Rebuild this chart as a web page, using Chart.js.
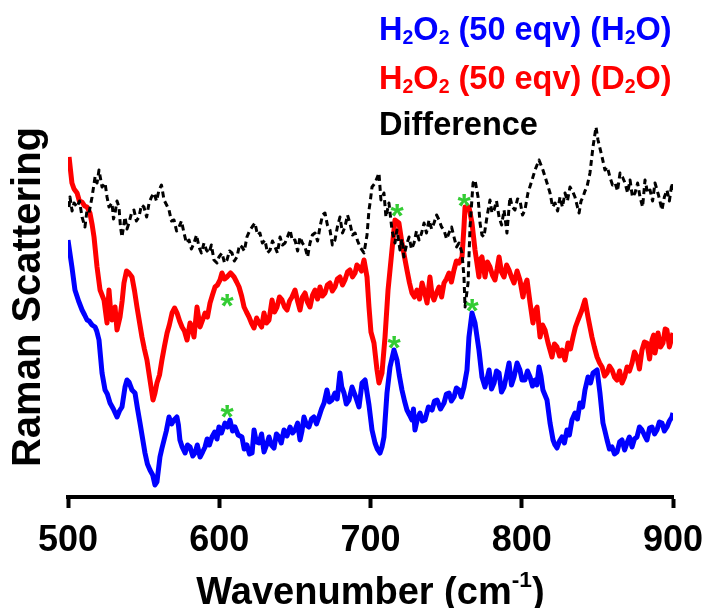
<!DOCTYPE html>
<html>
<head>
<meta charset="utf-8">
<script src="https://cdn.jsdelivr.net/npm/chart.js@4.4.1/dist/chart.umd.min.js"></script>
<style>
  html, body { margin: 0; padding: 0; background: #fff; overflow: hidden; }
  #wrap { position: relative; width: 705px; height: 608px; overflow: hidden; font-family: "Liberation Sans", Arial, sans-serif; font-weight: bold; }
  #chart { position: absolute; left: 0; top: 0; }
  .leg { position: absolute; left: 379px; font-size: 32.5px; line-height: 32px; white-space: nowrap; }
  .leg sub { font-size: 0.6em; vertical-align: baseline; position: relative; top: 0.22em; }
  #xtitle { position: absolute; left: 68px; width: 605px; top: 573px; text-align: center; font-size: 38px; line-height: 36px; white-space: nowrap; }
  #xtitle sup { font-size: 0.6em; vertical-align: baseline; position: relative; top: -0.75em; }
</style>
</head>
<body>
<div id="wrap">
  <canvas id="chart" width="705" height="608"></canvas>
  <div class="leg" style="top:13px;color:#0000ff">H<sub>2</sub>O<sub>2</sub> (50 eqv) (H<sub>2</sub>O)</div>
  <div class="leg" style="top:62px;color:#ff0000">H<sub>2</sub>O<sub>2</sub> (50 eqv) (D<sub>2</sub>O)</div>
  <div class="leg" style="top:108px;color:#000">Difference</div>
  <div id="xtitle">Wavenumber (cm<sup>-1</sup>)</div>
</div>
<script>
// x axis ticks (cm-1)
const xTicks = [500, 600, 700, 800, 900];

// H2O2 (50 eqv) in H2O, blue trace (arbitrary offset units)
const wnH2O = [500, 502.6, 504.6, 507, 509.3, 511, 512.6, 514, 515.9, 517.9, 519, 520.5, 522.5, 524.5, 526, 527.8,
  530, 532.4, 534, 535.7, 537.7, 539, 540.3, 542.3, 544.3, 546, 547.6, 550.9, 552.5, 554.2, 556, 557.5, 558.8,
  560.8, 562, 563.5, 565, 566.8, 568.5, 570.1, 572, 573, 574, 575.5, 577.4, 579, 580.7, 582.5, 584, 585.5, 587.3,
  589, 590.6, 592, 593.5, 595.2, 597, 598.5, 599.8, 601.5, 603.8, 605.5, 607.1, 608.8, 610.4, 612.5, 615, 616.5,
  618.3, 620, 621.7, 623, 624.5, 626.3, 628, 629.6, 631.3, 632.9, 634.5, 636.2, 637.8, 639.5, 641, 642.8, 644.8,
  646.8, 648.5, 650.1, 651.8, 653.4, 654.7, 656, 657.7, 659.3, 661, 662.6, 664.3, 665.9, 667.6, 669.3, 671.2,
  672.8, 674.5, 676.5, 678, 679.8, 681, 682.5, 684, 685.8, 687.8, 690, 692.4, 694.4, 696.4, 699, 701, 703, 704.5,
  706.3, 707.6, 708.9, 710.9, 712.9, 715.5, 717.5, 719, 720.8, 722.5, 724.1, 725.8, 727.4, 728.4, 729.4, 731,
  732.7, 734.3, 736, 738.3, 740.7, 742.3, 744, 746.3, 748.6, 750.2, 751.9, 753.5, 755.2, 756.8, 758.5, 760,
  761.8, 763.8, 765.1, 767.1, 769.1, 771.7, 773.7, 775.7, 777, 778.4, 780, 781.7, 783.3, 785, 786.6, 788.3, 790,
  791.6, 793.2, 794.9, 796.9, 798.8, 800.2, 802.1, 803.8, 805.5, 807.1, 808.8, 810, 811.4, 812.7, 814, 816.7,
  818.7, 820.7, 822, 823.3, 825, 826.6, 828.2, 829.9, 831.5, 833.2, 835.2, 836.8, 838.5, 840.2, 841.8, 843.8,
  845.5, 847.1, 849.8, 851.7, 853.7, 855, 856.4, 858, 859.7, 861.3, 863, 864.7, 866.3, 868, 869.6, 871.2, 872.9,
  874.5, 876.2, 877.8, 879.5, 881.1, 882.8, 884.5, 886.1, 887.8, 889.4, 891, 892.7, 894.3, 896, 897.6, 899.3, 900];
const ramanH2O = [257, 230, 207, 196, 187, 182, 177, 176, 172, 170, 166, 157, 124, 107, 103, 94,
  88, 80, 86, 90, 110, 117, 115, 107, 104, 88, 74, 44, 33, 27, 22, 12, 15,
  40, 48, 57, 66, 80, 73, 77, 80, 72, 57, 50, 44, 52, 50, 41, 44, 52, 40,
  45, 50, 58, 52, 60, 65, 58, 70, 64, 74, 70, 77, 66, 70, 62, 60, 48,
  52, 43, 44, 67, 55, 54, 63, 45, 52, 60, 52, 49, 63, 60, 54, 67, 61,
  70, 64, 67, 74, 57, 66, 80, 72, 70, 78, 80, 73, 80, 88, 94, 107,
  95, 97, 104, 98, 124, 110, 104, 93, 97, 110, 101, 90, 114, 117, 92, 67, 54, 48,
  44, 50, 60, 104, 130, 147, 137, 122, 107, 96, 87, 82, 77, 88, 67, 78,
  84, 76, 77, 90, 87, 96, 97, 88, 94, 103, 104, 96, 100, 109, 107, 100,
  110, 127, 160, 184, 174, 147, 120, 110, 118, 127, 108, 114, 126, 124, 105, 110, 122,
  134, 112, 120, 134, 127, 117, 117, 126, 120, 111, 117, 112, 130, 121, 107, 97,
  74, 57, 52, 49, 56, 60, 54, 67, 62, 77, 84, 78, 94, 90, 107, 120,
  114, 124, 127, 104, 74, 66, 57, 48, 50, 43, 45, 55, 57, 47, 54, 60, 50,
  58, 60, 70, 67, 62, 57, 69, 70, 63, 67, 75, 74, 66, 70, 76, 80, 84];

// H2O2 (50 eqv) in D2O, red trace
const wnD2O = [500.7, 502.6, 504, 506, 507.5, 509.3, 511, 512.6, 514.5, 516, 517.2, 519.2, 521.2, 523.8, 525.8,
  527.1, 528, 529.1, 531.1, 532.4, 534.4, 535.8, 537, 538.7, 540.3, 542.3, 544, 545.6, 548.9, 550.5, 552.2, 554.2,
  556.2, 557.5, 558.8, 560.5, 562.1, 563.8, 565.5, 567, 568.8, 570.5, 572.1, 573.8, 575.4, 577, 578.7, 580.7,
  582, 583.3, 585.3, 587.3, 589, 590.6, 592.2, 593.9, 595.5, 597.2, 598.8, 600.5, 601.8, 603.5, 605.1, 607.5,
  609.8, 611.5, 613.1, 614.8, 616.4, 618, 619.7, 621.3, 623, 624.7, 626.3, 628, 629.6, 631.2, 632.9, 634.9,
  636.5, 638.2, 639.8, 641.5, 643.2, 644.8, 646.5, 648.1, 650.1, 651.8, 653.4, 655, 656.7, 658.3, 660, 661.7,
  663.3, 665, 666.6, 668.2, 669.9, 671.5, 673.2, 674.8, 676.5, 678.1, 679.8, 681.5, 683.1, 684.8, 686.4, 688.1,
  689.8, 691, 692.4, 694, 695.7, 697.7, 699, 700.3, 702.3, 704.3, 705.6, 707.6, 709.6, 711.6, 714.2, 716.2,
  718.8, 720.8, 722.5, 724.1, 725.8, 727.4, 729, 730.7, 732.4, 734.1, 735.7, 737.4, 739.3, 740.7, 742, 743.6,
  745.3, 747, 748.6, 750.2, 751.9, 753.5, 755.2, 756.8, 758.5, 760.5, 761.8, 762.5, 765.1, 767.1, 769.1, 771.7,
  772.7, 773.7, 775.7, 777.3, 779, 780.6, 782.3, 783.7, 785, 786.6, 788.3, 790, 791.6, 793.2, 794.9, 796.9,
  798.8, 800.8, 802.2, 803.5, 805.5, 807.4, 808.8, 810.1, 812.1, 813.8, 815.4, 817.4, 820, 821.6, 823.3, 825,
  826.6, 828.6, 830.6, 832.2, 833.9, 835.5, 837.2, 839.8, 841.8, 843.8, 846.4, 848, 849.8, 851.5, 853.1, 854.8,
  856.4, 858, 859.7, 861.3, 863, 864.7, 866.3, 868, 869.6, 871.2, 872.9, 874.5, 876.2, 877.8, 879.5, 881.1,
  882.8, 884.5, 886.1, 887.2, 888.1, 889.2, 890.1, 891.8, 893.4, 894.8, 896, 897.6, 899.3, 900];
const ramanD2O = [340, 314, 308, 304, 296, 295, 291, 290, 284, 272, 260, 230, 207, 197, 174,
  207, 190, 177, 190, 167, 180, 196, 214, 226, 224, 220, 206, 190, 160, 148, 137, 117,
  97, 104, 114, 122, 137, 151, 164, 172, 184, 189, 184, 176, 170, 166, 157, 174,
  169, 160, 190, 170, 177, 184, 180, 194, 202, 210, 212, 217, 224, 218, 220, 224,
  220, 215, 210, 201, 190, 185, 180, 174, 169, 179, 174, 170, 184, 174, 177, 197,
  185, 190, 200, 197, 190, 187, 196, 200, 207, 196, 187, 200, 204, 195, 190, 202,
  207, 198, 210, 201, 204, 212, 214, 206, 210, 218, 220, 212, 217, 225, 227, 220,
  224, 232, 230, 226, 237, 220, 190, 165, 154, 127, 114, 124, 160, 207, 247, 277,
  274, 254, 240, 227, 214, 204, 200, 207, 198, 214, 205, 194, 220, 202, 197, 204,
  210, 200, 214, 218, 224, 215, 227, 236, 234, 240, 270, 290, 290, 274, 247, 220,
  238, 240, 220, 235, 230, 222, 217, 228, 240, 225, 220, 232, 227, 220, 214, 226,
  217, 200, 212, 217, 194, 174, 186, 190, 160, 172, 167, 154, 140, 153, 150, 141,
  147, 137, 154, 148, 160, 170, 177, 187, 197, 180, 160, 150, 140, 134, 130, 121,
  124, 131, 127, 120, 117, 126, 114, 120, 130, 126, 134, 145, 140, 128, 147, 155,
  154, 138, 157, 162, 144, 152, 164, 150, 154, 168, 167, 150, 160, 164];

// Difference, black dashed trace
const wnDiff = [500.7, 501.3, 502.7, 504, 506, 507.6, 509.3, 511.2, 512.5, 513.9, 515.9, 517.9, 519.2, 520.5,
  522.5, 524.5, 525.8, 527.1, 529.1, 530.1, 531.1, 532.4, 533.7, 534.7, 535.7, 537.7, 539, 540.3, 542, 543.6,
  545.2, 546.9, 548.6, 550.2, 552, 553.6, 555.2, 556.9, 558.5, 560.2, 561.8, 563.5, 565.2, 566.8, 568.4, 570.1,
  571.8, 573.4, 575, 576.7, 578.3, 580, 581.6, 583.3, 585, 586.6, 588.2, 589.9, 591.5, 593.2, 594.8, 596.5,
  598.5, 599.8, 601.8, 603.5, 605.1, 606.8, 608.4, 610, 611.7, 613.4, 615, 616.6, 618.3, 620, 621.7, 623.6,
  625.3, 626.9, 628.5, 630.2, 631.9, 633.6, 635.2, 636.9, 638.5, 640.2, 641.8, 643.5, 645.1, 646.8, 648.4, 650.1,
  651.8, 653.4, 655, 656.7, 658.4, 660, 661.6, 663.3, 665, 666.6, 668.3, 669.9, 671.5, 673.2, 674.8, 676.5,
  678.1, 679.8, 681.5, 683.1, 684.8, 686.4, 688.1, 689.8, 691.5, 693.1, 695.7, 697.7, 699, 699.7, 701, 703,
  705.6, 706.9, 708.9, 710.2, 712.2, 714.2, 716.2, 717.5, 719.5, 720.8, 722.1, 723.8, 725.5, 727.1, 728.8, 730.4,
  732.1, 733.8, 735.4, 737, 738.7, 740.4, 742, 743.7, 745.3, 747, 748.6, 750.3, 751.9, 753.6, 755.2, 756.9,
  758.5, 760.5, 761.8, 762.5, 764.5, 765.8, 767.8, 769.1, 771.1, 772.4, 773.7, 775, 777, 779, 780.3, 781.7,
  783.3, 785, 786.7, 788.3, 790.2, 792.2, 793.8, 795.5, 797.2, 798.8, 800.5, 802.1, 804.1, 806.8, 808.8, 811.4,
  814, 816.7, 818.7, 820.4, 822, 823.7, 825.3, 826.9, 828.6, 830.2, 831.9, 833.5, 835.2, 836.5, 837.9, 839.2,
  840.5, 841.8, 843.1, 845.1, 847.1, 849.1, 850.4, 853.1, 855, 856.6, 858.3, 860, 861.7, 863.3, 865, 866.6,
  868.3, 870, 871.6, 873.2, 874.9, 876.6, 878.2, 879.9, 881.5, 883.2, 884.8, 886.5, 888.1, 890.4, 892.7, 894.3,
  896, 897.6, 899.3, 900];
const ramanDiff = [290, 300, 286, 294, 290, 296, 280, 270, 286, 284, 300, 320, 314, 327,
  310, 314, 300, 290, 294, 278, 284, 296, 290, 270, 260, 280, 268, 274, 284, 287,
  276, 280, 292, 290, 280, 294, 300, 304, 296, 307, 312, 297, 292, 287, 276, 277,
  266, 270, 276, 264, 254, 257, 248, 254, 262, 250, 244, 254, 247, 244, 252, 237,
  234, 240, 244, 234, 237, 246, 244, 236, 240, 252, 250, 246, 260, 266, 270, 274,
  262, 264, 254, 257, 244, 247, 256, 250, 244, 260, 252, 254, 260, 267, 256, 257,
  246, 260, 254, 250, 240, 254, 262, 264, 256, 270, 282, 284, 272, 267, 252, 257,
  270, 280, 264, 270, 282, 274, 262, 264, 256, 250, 244, 262, 287, 294, 310, 314,
  324, 297, 304, 280, 294, 267, 254, 267, 247, 258, 240, 252, 260, 248, 254, 266,
  257, 264, 274, 264, 277, 268, 274, 282, 277, 270, 267, 258, 264, 270, 260, 250,
  254, 244, 220, 190, 214, 270, 314, 317, 300, 274, 262, 260, 280, 297, 284, 287,
  296, 280, 272, 287, 264, 300, 290, 287, 298, 297, 282, 287, 304, 317, 327, 337,
  327, 314, 304, 290, 294, 286, 300, 290, 304, 296, 310, 306, 300, 292, 284, 296,
  300, 306, 310, 324, 350, 370, 357, 340, 327, 330, 320, 312, 314, 306, 324, 320,
  314, 304, 317, 300, 304, 314, 300, 290, 317, 304, 307, 296, 314, 302, 287, 300,
  307, 296, 314, 306];

// green asterisks marking bands
const starWn = [605.1, 605.1, 717.5, 715.5, 761.8, 767.1];
const starVal = [89, 200, 290, 158, 300, 195];

const FONT = '"Liberation Sans", Arial, sans-serif';

function toPoints(xs, ys) {
  return xs.map((x, i) => ({ x: x, y: ys[i] }));
}

// asterisk glyph used as the marker image
const starImg = document.createElement('canvas');
starImg.width = 22;
starImg.height = 22;
const sctx = starImg.getContext('2d');
sctx.fillStyle = '#33cc33';
sctx.font = 'bold 34px ' + FONT;
sctx.textAlign = 'center';
sctx.textBaseline = 'alphabetic';
sctx.fillText('*', 11, 11 + 0.58 * 34);

const traceStyle = { pointRadius: 0, tension: 0, fill: false, borderJoinStyle: 'round' };

new Chart(document.getElementById('chart'), {
  type: 'line',
  data: {
    datasets: [
      { label: 'marks', data: toPoints(starWn, starVal), showLine: false,
        pointStyle: starImg, pointRadius: 11, order: 0 },
      { ...traceStyle, label: 'Difference', data: toPoints(wnDiff, ramanDiff),
        borderColor: '#000000', borderWidth: 3, borderDash: [6, 4], order: 1 },
      { ...traceStyle, label: 'H2O2 (50 eqv) (D2O)', data: toPoints(wnD2O, ramanD2O),
        borderColor: '#ff0000', borderWidth: 5, order: 2 },
      { ...traceStyle, label: 'H2O2 (50 eqv) (H2O)', data: toPoints(wnH2O, ramanH2O),
        borderColor: '#0000ff', borderWidth: 5, order: 3 },
    ],
  },
  options: {
    responsive: false,
    animation: false,
    layout: { padding: { top: 97, right: 32, left: 0, bottom: 0 } },
    plugins: { legend: { display: false }, tooltip: { enabled: false } },
    scales: {
      x: {
        type: 'linear', min: 500, max: 900,
        afterBuildTicks: s => { s.ticks = xTicks.map(v => ({ value: v })); },
        afterFit: s => { s.height = 111; s.paddingLeft = 0; s.paddingRight = 0; },
        grid: { display: true, drawOnChartArea: false, drawTicks: true, tickLength: 11, tickWidth: 4, tickColor: '#000' },
        border: { display: true, color: '#000', width: 4 },
        ticks: { color: '#000', padding: 11, maxRotation: 0, autoSkip: false,
                 font: { family: FONT, size: 36, weight: 'bold' } },
      },
      y: {
        min: 0, max: 400,
        afterFit: s => { s.width = 68; },
        grid: { display: false },
        border: { display: false },
        ticks: { display: false },
        title: { display: true, text: 'Raman Scattering', color: '#000',
                 padding: { top: 5, bottom: 0 },
                 font: { family: FONT, size: 40, weight: 'bold' } },
      },
    },
  },
});
</script>
</body>
</html>
